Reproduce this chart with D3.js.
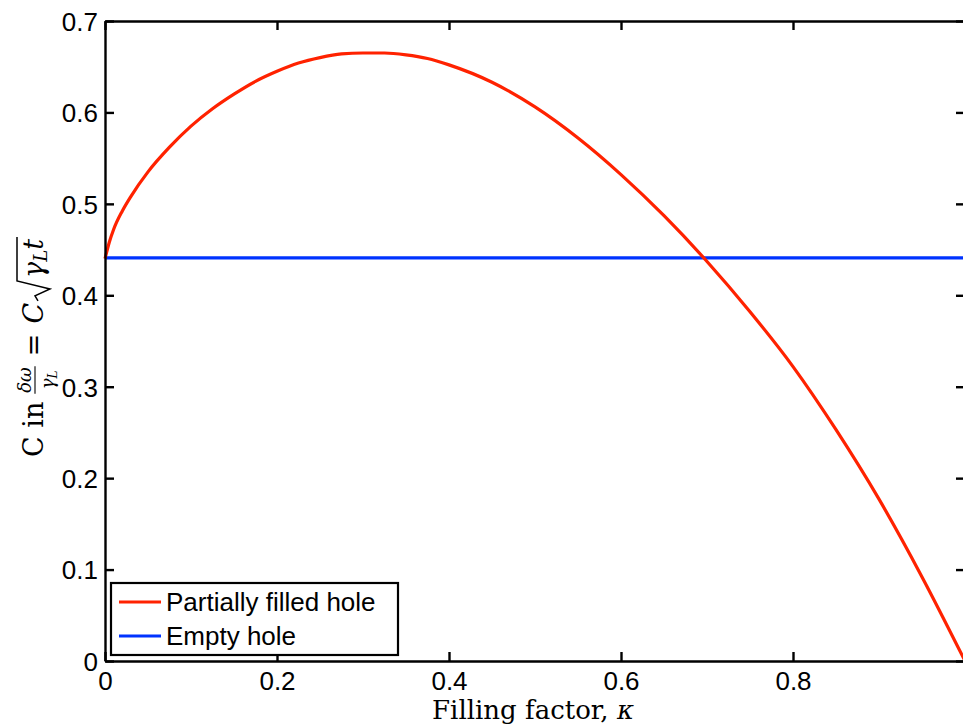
<!DOCTYPE html>
<html>
<head>
<meta charset="utf-8">
<script src="https://cdn.jsdelivr.net/npm/d3@7"></script>
<style>
  html, body { margin: 0; padding: 0; background: #fff; }
  svg { display: block; }
</style>
</head>
<body>
<svg id="chart" width="963" height="726"></svg>
<script>
// Filling factor values (kappa) and the growth coefficient C for a partially filled hole
const kappa = [0, 0.005, 0.01, 0.02, 0.03, 0.05, 0.075, 0.1, 0.125, 0.15, 0.175, 0.2, 0.225, 0.25, 0.275, 0.3,
  0.325, 0.35, 0.375, 0.4, 0.45, 0.5, 0.55, 0.6, 0.65, 0.7, 0.75, 0.8, 0.85, 0.9, 0.95, 1.0];
const partialC = [0.44, 0.458, 0.472, 0.492, 0.508, 0.535, 0.562, 0.585, 0.604, 0.620, 0.634, 0.645, 0.654, 0.660, 0.664, 0.665,
  0.665, 0.663, 0.659, 0.652, 0.633, 0.606, 0.572, 0.532, 0.487, 0.437, 0.382, 0.322, 0.253, 0.177, 0.092, 0.0];
// Empty hole: constant coefficient
const emptyKappa = [0, 1];
const emptyC = [0.441, 0.441];

const xTicks = [0, 0.2, 0.4, 0.6, 0.8, 1];
const xTickLabels = ["0", "0.2", "0.4", "0.6", "0.8", ""];
const yTicks = [0, 0.1, 0.2, 0.3, 0.4, 0.5, 0.6, 0.7];
const yTickLabels = ["0", "0.1", "0.2", "0.3", "0.4", "0.5", "0.6", "0.7"];
const legendLabels = ["Partially filled hole", "Empty hole"];
const seriesColors = ["#ff2200", "#0033ff"];

const svg = d3.select("#chart");
const margin = { left: 105, right: -2, top: 21, bottom: 65 };
const W = 963, H = 726;
const x = d3.scaleLinear().domain([0, 1]).range([margin.left, W - margin.right]);
const y = d3.scaleLinear().domain([0, 0.7]).range([H - margin.bottom, margin.top]);

const tickFont = "'Liberation Sans', Arial, Helvetica, sans-serif";
const serif = "'DejaVu Serif', 'Liberation Serif', serif";

// Series
const line = d3.line().x(d => x(d[0])).y(d => y(d[1])).curve(d3.curveMonotoneX);
const plot = svg.append("g");
plot.append("path")
  .datum(emptyKappa.map((k, i) => [k, emptyC[i]]))
  .attr("d", line).attr("fill", "none")
  .attr("stroke", seriesColors[1]).attr("stroke-width", 3.2);
plot.append("path")
  .datum(kappa.map((k, i) => [k, partialC[i]]))
  .attr("d", line).attr("fill", "none")
  .attr("stroke", seriesColors[0]).attr("stroke-width", 3.2);

// Axes: inward ticks on all four sides
const tl = 9;
const axB = svg.append("g").attr("transform", `translate(0,${y(0)})`)
  .call(d3.axisBottom(x).tickValues(xTicks).tickSizeInner(-tl).tickSizeOuter(0)
    .tickFormat((d, i) => xTickLabels[i]).tickPadding(10));
const axT = svg.append("g").attr("transform", `translate(0,${y(0.7)})`)
  .call(d3.axisTop(x).tickValues(xTicks).tickSizeInner(-tl).tickSizeOuter(0).tickFormat(""));
const axL = svg.append("g").attr("transform", `translate(${x(0)},0)`)
  .call(d3.axisLeft(y).tickValues(yTicks).tickSizeInner(-tl).tickSizeOuter(0)
    .tickFormat((d, i) => yTickLabels[i]).tickPadding(7));
const axR = svg.append("g").attr("transform", `translate(${x(1)},0)`)
  .call(d3.axisRight(y).tickValues(yTicks).tickSizeInner(-tl).tickSizeOuter(0).tickFormat(""));

[axB, axT, axL, axR].forEach(a => {
  a.select(".domain").attr("stroke", "#000").attr("stroke-width", 2.4);
  a.selectAll(".tick line").attr("stroke", "#000").attr("stroke-width", 2.4);
  a.selectAll(".tick text").attr("fill", "#000")
    .style("font-family", tickFont).style("font-size", "26px");
});
axB.selectAll(".tick text").attr("dy", "0.72em");
axL.selectAll(".tick text").attr("dy", "0.36em");

// X label
svg.append("text")
  .attr("x", (x(0) + x(1)) / 2 - 2).attr("y", 719)
  .attr("text-anchor", "middle")
  .style("font-family", serif).style("font-size", "26px")
  .html("Filling factor, <tspan font-style='italic'>κ</tspan>");

// Y label: C in δω/γ_L = C √(γ_L t), rotated
const yl = svg.append("g").attr("transform", "translate(43,457) rotate(-90)");
const fs = 27;
let cx = 0;
function txt(s, opts = {}) {
  return yl.append("text").attr("x", opts.x ?? cx).attr("y", opts.y ?? 0)
    .style("font-family", serif).style("font-size", (opts.size || fs) + "px")
    .attr("font-style", opts.italic ? "italic" : null)
    .text(s);
}
let t = txt("C in");
cx += t.node().getComputedTextLength() + 8;
// fraction δω / γ_L
const fracX = cx;
const num = txt("δω", { y: -12, size: 18, italic: true });
const numW = num.node().getComputedTextLength();
const den = yl.append("text").attr("y", 11).style("font-family", serif).style("font-size", "18px");
den.append("tspan").attr("font-style", "italic").text("γ");
den.append("tspan").attr("font-style", "italic").attr("font-size", "12px").attr("dy", 3).text("L");
const denW = den.node().getComputedTextLength();
const fw = Math.max(numW, denW) + 2;
num.attr("x", fracX + (fw - numW) / 2);
den.attr("x", fracX + (fw - denW) / 2);
yl.append("line").attr("x1", fracX).attr("x2", fracX + fw).attr("y1", -8).attr("y2", -8)
  .attr("stroke", "#000").attr("stroke-width", 1.1);
cx += fw + 10;
t = txt("=");
cx += t.node().getComputedTextLength() + 10;
t = txt("C", { italic: true });
cx += t.node().getComputedTextLength() + 2;
// square root
const sq0 = cx;
const rad = yl.append("text").attr("x", sq0 + 23).attr("y", 0).style("font-family", serif).style("font-size", fs + "px");
rad.append("tspan").attr("font-style", "italic").text("γ");
rad.append("tspan").attr("font-style", "italic").attr("font-size", "18px").attr("dy", 4).text("L");
rad.append("tspan").attr("font-style", "italic").attr("dy", -4).text("t");
const radW = rad.node().getComputedTextLength();
yl.append("path")
  .attr("d", `M${sq0},-5 L${sq0 + 5},-8 L${sq0 + 12},7 L${sq0 + 20},-26 L${sq0 + 25 + radW},-26`)
  .attr("fill", "none").attr("stroke", "#000").attr("stroke-width", 1.5);

// Legend
const lg = svg.append("g");
lg.append("rect").attr("x", 111).attr("y", 583).attr("width", 287).attr("height", 72)
  .attr("fill", "#fff").attr("stroke", "#000").attr("stroke-width", 2.2);
legendLabels.forEach((lab, i) => {
  const yy = 602 + i * 34;
  lg.append("line").attr("x1", 119).attr("x2", 161).attr("y1", yy).attr("y2", yy)
    .attr("stroke", seriesColors[i]).attr("stroke-width", 3.2);
  lg.append("text").attr("x", 166).attr("y", yy + 9)
    .style("font-family", tickFont).style("font-size", "26px").text(lab);
});
</script>
</body>
</html>
